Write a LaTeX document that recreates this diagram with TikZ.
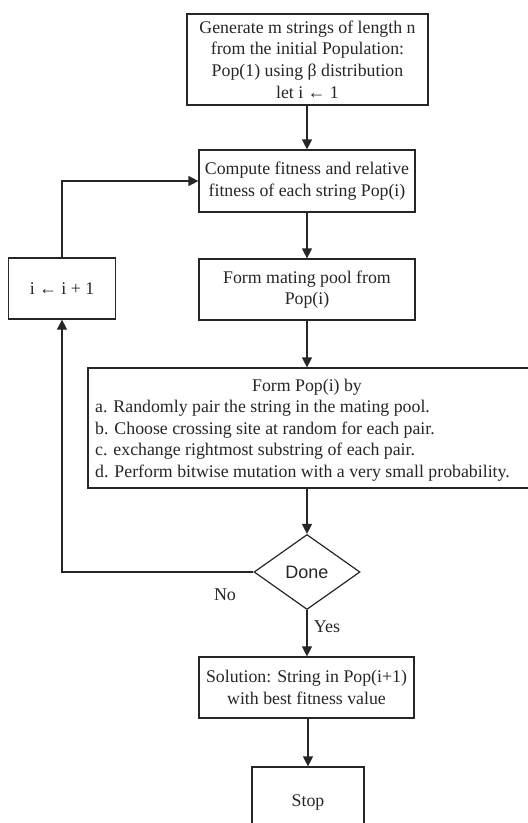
\documentclass[tikz,border=0pt]{standalone}
\usepackage{fontspec}
\setmainfont{Liberation Serif}
\newfontfamily\donefont{Liberation Sans}
\usetikzlibrary{arrows.meta,shapes.geometric}
\begin{document}
\begin{tikzpicture}[x=1pt,y=-1pt,
  every node/.style={text=black!85},
  txt/.style={font=\fontsize{17.8}{21.6}\selectfont, align=center},
  box/.style={txt, draw=black!85, line width=1.2pt, inner sep=0pt},
  dec/.style={draw=black!85, line width=1.2pt, shape=diamond, inner sep=0pt, minimum width=106pt, minimum height=75pt, font=\donefont\fontsize{18}{20}\selectfont},
  conn/.style={draw=black!85, line width=1.2pt},
  arr/.style={conn, -{Triangle[length=10pt,width=10pt]}},
  lbl/.style={font=\fontsize{18}{20}\selectfont}]
\useasboundingbox (0,0) rectangle (528,823);
\node[box, minimum width=241pt, minimum height=91pt] (gen) at (307.5,59.5)
  {Generate m strings of length n\\from the initial Population:\\Pop(1) using β distribution\\let i ← 1};
\node[box, minimum width=216pt, minimum height=62pt] (comp) at (307,181)
  {Compute fitness and relative\\fitness of each string Pop(i)};
\node[box, minimum width=216pt, minimum height=61pt] (pool) at (307,289.5)
  {Form mating pool from\\Pop(i)};
\node[box, minimum width=443pt, minimum height=120pt] (form) at (309.5,428) {};
\node[txt, anchor=base] (formhead) at (307,391) {Form Pop(i) by};
\node[txt, align=left, anchor=north west, inner sep=0pt] (formlist) at (95,400)
  {a. Randomly pair the string in the mating pool.\\
  b. Choose crossing site at random for each pair.\\
  c. exchange rightmost substring of each pair.\\
  d. Perform bitwise mutation with a very small probability.};
\node[dec] (done) at (307,572) {Done};
\node[box, minimum width=215pt, minimum height=61pt] (sol) at (306.5,687.5)
  {Solution: String in Pop(i+1)\\with best fitness value};
\node[box, minimum width=112pt, minimum height=70pt] (stop) at (308,802) {Stop};
\node[box, minimum width=107pt, minimum height=61pt] (inc) at (62,288.5) {i ← i + 1};
\coordinate (corner) at (62,572);
\node[lbl] (no) at (225,595) {No};
\node[lbl] (yes) at (327,627) {Yes};
\draw[arr] (gen.south -| comp.north) -- (comp.north);
\draw[arr] (comp) -- (pool);
\draw[arr] (pool.south) -- (pool.south |- form.north);
\draw[arr] (form.south -| done.north) -- (done.north);
\draw[arr] (done.south) -- (sol.north -| done.south);
\draw[arr] (sol.south -| stop.north) -- (stop.north);
\draw[arr] (done.west) -- (corner) -- (inc.south);
\draw[arr] (inc.north) |- (comp.west);
\end{tikzpicture}
\end{document}
